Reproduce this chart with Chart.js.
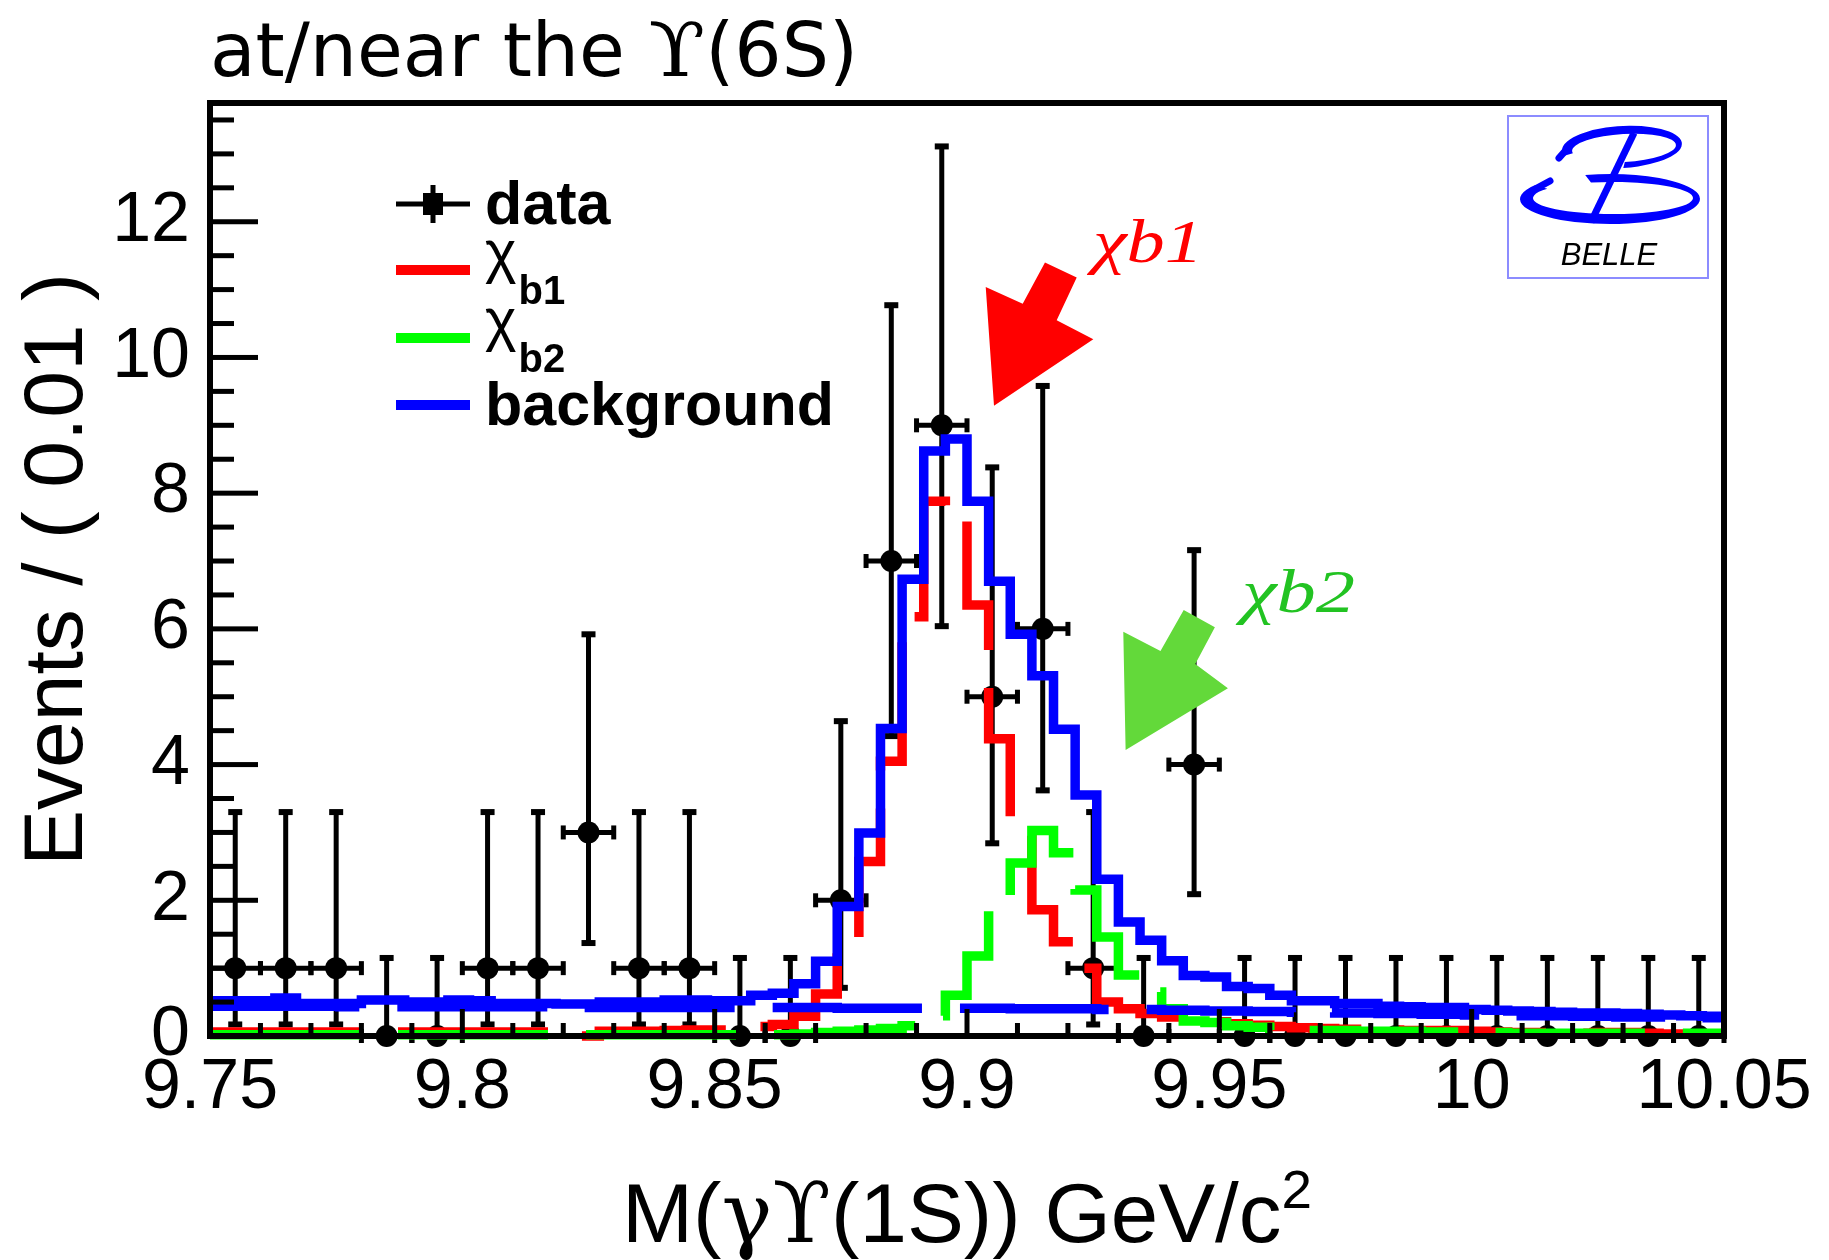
<!DOCTYPE html>
<html><head><meta charset="utf-8">
<script src="https://cdn.jsdelivr.net/npm/chart.js@4.4.1/dist/chart.umd.min.js"></script>
<style>html,body{margin:0;padding:0;background:#fff;overflow:hidden}canvas{display:block}</style>
</head><body>
<canvas id="c" width="1829" height="1260" style="width:1829px;height:1260px"></canvas>
<script>
// ---------------- data ----------------
const massRange = [9.75, 10.05];
const nCurveBins = 70;
const dataBinHalfWidth = 0.005;

const dataMass = [9.755,9.765,9.775,9.785,9.795,9.805,9.815,9.825,9.835,9.845,
                  9.855,9.865,9.875,9.885,9.895,9.905,9.915,9.925,9.935,9.945,
                  9.955,9.965,9.975,9.985,9.995,10.005,10.015,10.025,10.035,10.045];
const dataEvents = [1,1,1,0,0,1,1,3,1,1, 0,0,2,7,9,5,6,1,0,4, 0,0,0,0,0,0,0,0,0,0];
const dataErrLow = [0.83,0.83,0.83,0,0,0.83,0.83,1.63,0.83,0.83,
                    0,0,1.29,2.58,2.96,2.16,2.38,0.83,0,1.91,
                    0,0,0,0,0,0,0,0,0,0];
const dataErrHigh = [2.30,2.30,2.30,1.15,1.15,2.30,2.30,2.92,2.30,2.30,
                     1.15,1.15,2.64,3.77,4.11,3.38,3.58,2.30,1.15,3.16,
                     1.15,1.15,1.15,1.15,1.15,1.15,1.15,1.15,1.15,1.15];

const totalCurve = [0.52,0.52,0.52,0.56,0.48,0.48,0.48,0.53,0.53,0.50,
                    0.50,0.53,0.52,0.48,0.48,0.48,0.47,0.47,0.50,0.50,
                    0.50,0.53,0.53,0.52,0.52,0.60,0.63,0.77,1.10,1.91,
                    2.99,4.53,6.73,8.62,8.80,7.88,6.70,5.92,5.31,4.52,
                    3.55,2.31,1.68,1.41,1.11,0.89,0.87,0.73,0.70,0.60,
                    0.52,0.52,0.48,0.48,0.44,0.43,0.42,0.42,0.39,0.38,
                    0.37,0.36,0.35,0.34,0.34,0.33,0.32,0.31,0.30,0.29];
const chib1Curve = [0.06,0.06,0.06,0.06,0.06,0.06,0.06,0.06,0.06,0.06,
                    0.06,0.06,0.06,0.06,0.06,0.06,0.06,0.00,0.07,0.07,
                    0.07,0.08,0.09,0.09,0.11,0.14,0.17,0.29,0.62,1.44,
                    2.57,4.05,6.18,7.88,7.80,6.35,4.38,2.95,1.86,1.39,
                    1.00,0.50,0.40,0.33,0.28,0.23,0.21,0.18,0.16,0.14,
                    0.12,0.11,0.10,0.10,0.09,0.08,0.08,0.08,0.07,0.06,
                    0.05,0.05,0.05,0.04,0.05,0.05,0.04,0.03,0.03,0.03];
const chib2Curve = [0.02,0.02,0.02,0.02,0.02,0.02,0.02,0.02,0.02,0.02,
                    0.02,0.02,0.02,0.02,0.02,0.02,0.02,0.02,0.02,0.02,
                    0.02,0.02,0.02,0.02,0.02,0.02,0.02,0.03,0.05,0.07,
                    0.09,0.11,0.15,0.30,0.60,1.18,1.95,2.55,3.03,2.70,
                    2.15,1.46,0.90,0.65,0.40,0.22,0.20,0.15,0.13,0.09,
                    0.08,0.08,0.08,0.07,0.07,0.07,0.06,0.06,0.05,0.05,
                    0.04,0.04,0.04,0.04,0.04,0.04,0.04,0.04,0.04,0.04];
const bkgCurve = [0.44,0.44,0.44,0.44,0.44,0.44,0.43,0.43,0.43,0.43,
                  0.43,0.43,0.43,0.43,0.43,0.43,0.42,0.42,0.42,0.42,
                  0.42,0.42,0.42,0.42,0.42,0.42,0.42,0.42,0.42,0.41,
                  0.41,0.41,0.41,0.41,0.41,0.41,0.41,0.40,0.40,0.40,
                  0.40,0.39,0.39,0.39,0.38,0.38,0.37,0.37,0.36,0.36,
                  0.35,0.35,0.34,0.34,0.33,0.33,0.32,0.32,0.31,0.31,
                  0.30,0.30,0.30,0.29,0.29,0.28,0.28,0.28,0.27,0.27];

const xTickValues = [9.75, 9.8, 9.85, 9.9, 9.95, 10, 10.05];
const xTickLabels = ['9.75','9.8','9.85','9.9','9.95','10','10.05'];
const yTickValues = [0, 2, 4, 6, 8, 10, 12];
const yTickLabels = ['0','2','4','6','8','10','12'];
const xMinorStep = 0.01;
const yMinorStep = 0.5;

const legendMain = ['data', 'χ', 'χ', 'background'];
const legendSub  = ['', 'b1', 'b2', ''];

// annotation arrows (data coordinates)
const chib1Arrow = [[9.90535,9.29],[9.90371,11.04],[9.91104,10.79],[9.91545,11.40],[9.92174,11.18],[9.91777,10.55],[9.92503,10.27]];
const chib2Arrow = [[9.93143,4.215],[9.93097,5.959],[9.93834,5.674],[9.94294,6.279],[9.94912,6.024],[9.94524,5.483],[9.95170,5.125]];
const chib1LabelPos = [9.92497, 11.41];
const chib2LabelPos = [9.95449, 6.25];

// ---------------- helpers ----------------
const binW = (massRange[1] - massRange[0]) / nCurveBins;
function histPoints(vals) {
  const pts = vals.map((v, i) => ({x: massRange[0] + i * binW, y: v}));
  pts.push({x: massRange[1], y: vals[vals.length - 1]});
  return pts;
}
const SANS = '"Liberation Sans", Arial, Helvetica, sans-serif';
const SERIF = '"DejaVu Serif", "Liberation Serif", serif';

function stepSet(label, vals, color, dash, order) {
  return {label, data: histPoints(vals), borderColor: color, backgroundColor: color,
    borderWidth: 9.5, borderDash: dash, stepped: true, pointRadius: 0, pointHoverRadius: 0,
    fill: false, tension: 0, order, clip: false, borderCapStyle: 'butt', borderJoinStyle: 'miter'};
}

// ---------------- plugins ----------------
const errorBars = {
  id: 'errorBars',
  beforeDatasetsDraw(chart) {
    const {ctx, scales: {x, y}} = chart;
    ctx.save();
    ctx.strokeStyle = '#000'; ctx.fillStyle = '#000'; ctx.lineWidth = 5; ctx.lineCap = 'butt';
    dataMass.forEach((m, i) => {
      const px = x.getPixelForValue(m), py = y.getPixelForValue(dataEvents[i]);
      const yLo = y.getPixelForValue(dataEvents[i] - dataErrLow[i]);
      const yHi = y.getPixelForValue(dataEvents[i] + dataErrHigh[i]);
      const xLo = x.getPixelForValue(m - dataBinHalfWidth), xHi = x.getPixelForValue(m + dataBinHalfWidth);
      ctx.beginPath();
      ctx.moveTo(px, yLo); ctx.lineTo(px, yHi);
      ctx.moveTo(xLo, py); ctx.lineTo(xHi, py);
      ctx.stroke();
      ctx.fillRect(px - 7, yHi - 3, 14, 6);
      ctx.fillRect(px - 7, yLo - 3, 14, 6);
      ctx.fillRect(xLo - 2.5, py - 7, 5, 14);
      ctx.fillRect(xHi - 2.5, py - 7, 5, 14);
    });
    ctx.restore();
  }
};

const frameTicks = {
  id: 'frameTicks',
  afterDatasetsDraw(chart) {
    const {ctx, chartArea: a, scales: {x, y}} = chart;
    ctx.save();
    ctx.fillStyle = '#000';
    const nx = Math.round((massRange[1] - massRange[0]) / xMinorStep);
    for (let k = 0; k <= nx; k++) {
      const v = massRange[0] + k * xMinorStep;
      const major = xTickValues.some(t => Math.abs(t - v) < 1e-6);
      const len = major ? 27 : 13;
      const px = x.getPixelForValue(v);
      ctx.fillRect(px - 2.5, a.bottom - len, 5, len);
    }
    for (let v = 0; v <= y.max + 1e-9; v += yMinorStep) {
      const major = yTickValues.some(t => Math.abs(t - v) < 1e-6);
      const len = major ? 48 : 24;
      const py = y.getPixelForValue(v);
      ctx.fillRect(a.left, py - 2.5, len, 5);
    }
    ctx.strokeStyle = '#000'; ctx.lineWidth = 6; ctx.lineJoin = 'miter';
    ctx.strokeRect(a.left, a.top, a.right - a.left, a.bottom - a.top);
    ctx.restore();
  }
};

// draws text parts (font per part, optional vertical shift) squeezed to a target width
function fitText(ctx, parts, x, baseline, targetW, align) {
  let w = 0;
  parts.forEach(p => { ctx.font = p.f; w += ctx.measureText(p.t).width; });
  const s = targetW / w;
  ctx.save();
  ctx.textAlign = 'left';
  ctx.translate(align === 'center' ? x - targetW / 2 : x, baseline);
  ctx.scale(s, 1);
  let cx = 0;
  parts.forEach(p => { ctx.font = p.f; ctx.fillText(p.t, cx, p.dy || 0); cx += ctx.measureText(p.t).width; });
  ctx.restore();
}

const decorations = {
  id: 'decorations',
  afterDraw(chart) {
    const {ctx, chartArea: a, scales: {x, y}} = chart;
    ctx.save();
    ctx.textBaseline = 'alphabetic'; ctx.textAlign = 'left';
    // title
    ctx.fillStyle = '#000';
    const cond = '"DejaVu Sans Condensed", "Liberation Sans Narrow", "DejaVu Sans", sans-serif';
    fitText(ctx, [
      {t: 'at/near the ', f: '74px ' + cond},
      {t: 'ϒ', f: '74px ' + SERIF},
      {t: '(6S)', f: '74px ' + cond}
    ], 210, 76, 648);

    // x-axis title
    fitText(ctx, [
      {t: 'M(', f: '84px ' + SANS},
      {t: 'γϒ', f: '84px ' + SERIF},
      {t: '(1S)) GeV/c', f: '84px ' + SANS},
      {t: '2', f: '54px ' + SANS, dy: -34}
    ], (a.left + a.right) / 2, 1242, 690, 'center');

    // arrows
    const poly = (pts, color) => {
      ctx.beginPath();
      pts.forEach((p, i) => {
        const px = x.getPixelForValue(p[0]), py = y.getPixelForValue(p[1]);
        if (i === 0) ctx.moveTo(px, py); else ctx.lineTo(px, py);
      });
      ctx.closePath(); ctx.fillStyle = color; ctx.fill();
    };
    poly(chib1Arrow, '#ff0000');
    poly(chib2Arrow, '#63d93a');
    ctx.fillStyle = '#ff0000';
    fitText(ctx, [{t: 'χb1', f: 'italic 62px "Liberation Serif", "DejaVu Serif", serif'}],
      x.getPixelForValue(chib1LabelPos[0]), y.getPixelForValue(chib1LabelPos[1]), 110);
    ctx.fillStyle = '#22c322';
    fitText(ctx, [{t: 'χb2', f: 'italic 62px "Liberation Serif", "DejaVu Serif", serif'}],
      x.getPixelForValue(chib2LabelPos[0]), y.getPixelForValue(chib2LabelPos[1]), 113);

    // legend
    const rows = [204, 270, 338, 405];
    const colors = ['#000', '#ff0000', '#00ff00', '#0000ff'];
    const sx0 = 396, sx1 = 470, tx = 485;
    rows.forEach((ry, i) => {
      if (i === 0) {
        ctx.fillStyle = '#000';
        ctx.fillRect(sx0, ry - 2.5, sx1 - sx0, 5);
        ctx.fillRect((sx0 + sx1) / 2 - 2.5, ry - 19, 5, 38);
        ctx.fillRect((sx0 + sx1) / 2 - 10, ry - 11, 20, 22);
      } else {
        ctx.fillStyle = colors[i];
        ctx.fillRect(sx0, ry - 5, sx1 - sx0, 10);
      }
      ctx.fillStyle = '#000';
      if (legendSub[i]) {
        ctx.font = '60px ' + SANS;
        ctx.fillText(legendMain[i], tx, ry + 2);
        const w = ctx.measureText(legendMain[i]).width;
        ctx.font = 'bold 40px ' + SANS;
        ctx.fillText(legendSub[i], tx + w + 2, ry + 34);
      } else {
        ctx.font = 'bold 61px ' + SANS;
        ctx.fillText(legendMain[i], tx, ry + 20);
      }
    });

    // BELLE logo
    ctx.strokeStyle = '#8c8cff'; ctx.lineWidth = 2;
    ctx.strokeRect(1508, 116, 200, 162);
    ctx.fillStyle = '#0000ff';
    // top bowl (crescent)
    ctx.beginPath();
    ctx.ellipse(1622, 147, 60, 21, -0.06, Math.PI * 0.92, Math.PI * 2.5);
    ctx.ellipse(1624, 148, 52, 14, -0.06, Math.PI * 2.5, Math.PI * 0.95, true);
    ctx.closePath(); ctx.fill();
    ctx.strokeStyle = '#0000ff'; ctx.lineCap = 'round'; ctx.lineWidth = 7;
    ctx.beginPath(); ctx.moveTo(1566, 150); ctx.lineTo(1559, 158); ctx.stroke();
    // bottom bowl (crescent)
    ctx.beginPath();
    ctx.ellipse(1610, 199, 90, 25, 0, 3.72, -1.85, true);
    ctx.ellipse(1613, 198, 80, 16, 0, -1.85, 3.75, false);
    ctx.closePath(); ctx.fill();
    ctx.beginPath(); ctx.moveTo(1537, 188); ctx.lineTo(1550, 181); ctx.stroke();
    ctx.lineWidth = 7; ctx.lineCap = 'butt';
    ctx.beginPath(); ctx.moveTo(1634, 133); ctx.lineTo(1591, 222); ctx.stroke();
    ctx.fillStyle = '#000'; ctx.textAlign = 'center';
    ctx.font = 'italic 31px ' + SANS;
    ctx.fillText('BELLE', 1609, 265);
    ctx.restore();
  }
};

// ---------------- chart ----------------
new Chart(document.getElementById('c').getContext('2d'), {
  type: 'line',
  data: {
    datasets: [
      stepSet('total', totalCurve, '#0000ff', [], 1),
      stepSet('background', bkgCurve, '#0000ff', [150, 38], 2),
      stepSet('χb2', chib2Curve, '#00ff00', [150, 38], 3),
      stepSet('χb1', chib1Curve, '#ff0000', [150, 38], 4),
      {label: 'data', data: dataMass.map((m, i) => ({x: m, y: dataEvents[i]})),
       showLine: false, pointRadius: 11, pointHoverRadius: 11, pointBackgroundColor: '#000',
       pointBorderWidth: 0, pointBorderColor: '#000', order: 5, clip: false}
    ]
  },
  options: {
    responsive: false, animation: false, devicePixelRatio: 1,
    layout: {padding: {top: 103, right: 105, left: 0, bottom: 0}},
    plugins: {legend: {display: false}, tooltip: {enabled: false}},
    events: [],
    scales: {
      x: {
        type: 'linear', min: massRange[0], max: massRange[1],
        afterBuildTicks: s => { s.ticks = xTickValues.map(v => ({value: v})); },
        afterFit: s => { s.height = 224; },
        grid: {display: false, drawTicks: false}, border: {display: false},
        ticks: {autoSkip: false, maxRotation: 0, minRotation: 0, padding: 11, color: '#000',
                font: {family: SANS, size: 70}, callback: (v, i) => xTickLabels[i]},
        title: {display: false, text: 'M(γϒ(1S)) GeV/c²'}
      },
      y: {
        type: 'linear', min: 0, max: 13.75,
        afterBuildTicks: s => { s.ticks = yTickValues.map(v => ({value: v})); },
        afterFit: s => { s.width = 210; },
        grid: {display: false, drawTicks: false}, border: {display: false},
        ticks: {autoSkip: false, padding: 20, color: '#000',
                font: {family: SANS, size: 70}, callback: (v, i) => yTickLabels[i]},
        title: {display: true, text: 'Events / ( 0.01 )', color: '#000',
                font: {family: SANS, size: 84, lineHeight: 1}, padding: {top: 17, bottom: 0}}
      }
    }
  },
  plugins: [errorBars, frameTicks, decorations]
});
</script>
</body></html>
